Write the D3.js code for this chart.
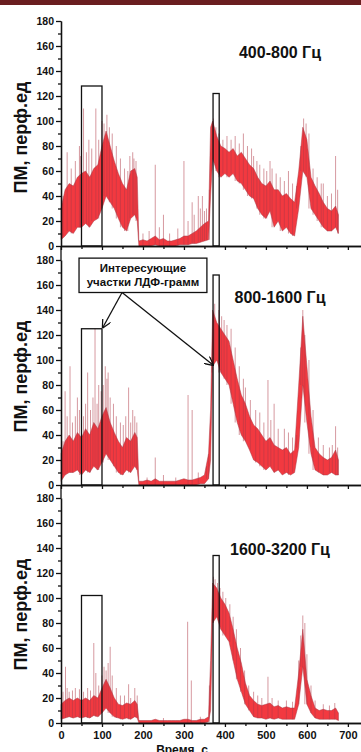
<!doctype html>
<html lang="ru">
  <head>
    <meta charset="utf-8"/>
    <title>ЛДФ-граммы</title>
    <script src="https://d3js.org/d3.v7.min.js"></script>
    <style>
      body { margin: 0; background: #fff; }
      svg { display: block; font-family: "Liberation Sans", Arial, sans-serif; }
      .axis path, .axis line { stroke: #111; stroke-width: 1.3; }
      .axis text { font-weight: bold; font-size: 10.5px; fill: #111; }
    </style>
  </head>
  <body>
    <div id="chart"></div>
    <script>
      // time samples, s
      var times = [0,10,20,30,40,50,60,70,80,90,100,110,120,130,140,150,160,170,180,
        186,
        190,200,210,220,230,240,250,260,270,280,290,300,310,320,330,340,350,360,
        365,
        370,380,390,400,410,420,430,440,450,460,470,480,490,500,510,520,530,540,550,560,570,580,590,600,610,620,630,640,650,660,670,
        677];

      // 400-800 Hz: lower / upper edge of the dense band
      var p1Lo = [5,8,12,10,15,15,18,15,20,22,30,40,35,30,22,15,12,22,25, 20,
        0,0,0,0,1,0,0,0,0,0,1,1,1,2,2,3,4,5, 40,
        70,60,55,58,55,58,52,50,45,40,38,30,25,22,28,15,20,12,15,10,8,30,60,55,30,25,20,15,12,12,15, 10];
      var p1Hi = [30,45,50,48,55,58,60,55,62,65,80,92,80,68,58,50,45,60,62, 55,
        4,5,4,6,8,5,6,4,4,5,6,8,8,10,12,15,18,20, 95,
        100,88,80,78,75,78,72,75,70,65,62,55,50,48,52,45,45,40,42,38,35,60,95,85,55,48,42,35,30,28,32, 25];

      // 800-1600 Hz
      var p2Lo = [3,8,10,10,12,8,12,10,15,12,18,25,20,15,10,8,12,10,15, 12,
        0,0,0,0,0,0,0,0,0,0,0,0,0,0,0,1,1,5, 20,
        95,100,90,85,80,65,50,40,35,28,20,18,15,12,15,10,12,8,10,8,10,30,80,50,25,12,10,8,8,10,8, 8];
      var p2Hi = [25,35,40,35,42,38,45,40,50,45,55,62,50,42,35,30,38,35,42, 38,
        3,3,4,3,5,3,3,3,3,3,4,5,4,4,5,6,8,25, 60,
        140,130,125,120,115,100,85,72,65,55,48,45,40,35,38,32,30,28,30,25,28,80,135,95,55,30,25,22,20,22,28, 20];

      // 1600-3200 Hz
      var p3Lo = [3,4,5,4,5,4,5,4,6,5,8,12,8,5,4,3,4,3,5, 4,
        0,0,0,0,0,0,0,0,0,0,0,0,0,0,0,0,0,1, 10,
        80,85,75,70,65,50,35,25,15,10,5,4,4,3,4,3,4,3,3,3,3,15,45,15,8,4,3,3,3,3,3, 2];
      var p3Hi = [15,18,20,18,20,18,20,18,22,20,28,35,28,20,15,14,16,15,18, 15,
        2,2,2,2,3,2,2,2,2,2,2,3,3,2,2,3,3,5, 50,
        112,108,100,95,88,75,60,48,32,22,18,15,14,15,16,13,14,12,13,12,12,40,75,35,22,12,10,11,10,10,12, 8];

      // thin spikes / hairs above the band [t, peak]
      var p1Spikes = [[5,40],[15,75],[25,62],[35,68],[45,80],[48,72],[55,110],[62,75],[68,85],[75,78],[85,110],
        [92,85],[100,100],[105,98],[112,105],[118,95],[125,90],[135,80],[145,70],[155,62],[163,60],[168,72],
        [175,75],[178,70],[183,68],[200,10],[215,12],[230,65],[240,15],[250,25],[265,10],[285,14],[300,68],
        [310,20],[320,35],[325,25],[335,40],[340,30],[345,40],[350,28],[355,30],[362,45],[372,102],[378,95],
        [385,90],[395,85],[405,88],[415,85],[425,88],[435,82],[445,90],[455,80],[465,78],[470,72],[478,68],
        [485,65],[495,62],[502,60],[510,68],[515,62],[525,58],[535,55],[545,52],[555,60],[565,50],[575,48],
        [585,80],[592,102],[598,98],[605,90],[615,62],[625,55],[635,50],[640,50],[650,40],[660,42],[670,72],[675,45]];
      var p2Spikes = [[5,35],[10,75],[15,55],[22,95],[28,50],[35,55],[40,70],[45,60],[55,55],[60,65],[65,90],
        [72,60],[78,70],[83,125],[88,65],[92,80],[98,75],[103,80],[108,95],[112,85],[115,90],[120,70],[128,65],
        [135,55],[145,50],[152,48],[158,55],[165,78],[170,50],[175,60],[180,55],[185,50],[210,6],[230,22],
        [250,8],[280,6],[310,72],[320,60],[335,10],[355,15],[360,25],[368,90],[375,145],[385,140],[392,135],
        [398,132],[405,128],[415,125],[425,110],[435,95],[445,85],[450,78],[462,68],[475,60],[485,58],[495,50],
        [505,84],[512,52],[520,65],[530,45],[545,45],[555,42],[565,38],[575,40],[585,110],[590,140],[595,120],
        [605,100],[615,60],[628,38],[640,32],[655,30],[662,32],[670,47],[675,30]];
      var p3Spikes = [[5,25],[11,45],[15,28],[20,25],[28,26],[35,28],[45,27],[55,25],[65,28],[72,26],[80,64],
        [85,40],[92,30],[100,38],[105,45],[110,42],[115,48],[120,61],[125,38],[135,28],[145,22],[155,22],
        [165,31],[170,20],[180,28],[186,22],[250,4],[309,81],[318,34],[340,5],[362,30],[372,117],[376,115],
        [382,112],[388,108],[395,105],[402,100],[412,95],[420,85],[428,75],[438,60],[448,42],[458,30],[470,25],
        [480,22],[490,20],[505,37],[515,20],[530,18],[550,18],[565,17],[580,50],[585,70],[590,86],[595,80],
        [600,55],[610,30],[620,18],[640,15],[655,14],[668,16]];

      // boxes around the regions of interest [t0, t1, top]
      var p1Boxes = [[50,100,128],[371,386,122]];
      var p2Boxes = [[50,100,125],[371,386,168]];
      var p3Boxes = [[50,100,102],[371,386,134]];

      var titles = ["400-800 Гц", "800-1600 Гц", "1600-3200 Гц"];
      var yTicks = [0,20,40,60,80,100,120,140,160,180];
      var xTicks = [0,100,200,300,400,500,600,700];
      var yLabel = "ПМ, перф.ед";
      var xLabel = "Время, с";
      var noteLines = ["Интересующие", "участки ЛДФ-грамм"];

      var w = 361;
      var h = 752;
      var base = [246, 485, 723];
      var panelH = 225;

      var svg = d3.select("#chart")
        .append("svg")
        .attr("width", w)
        .attr("height", h);

      svg.append("defs").append("marker")
        .attr("id", "arr")
        .attr("viewBox", "0 0 10 10")
        .attr("refX", 9).attr("refY", 5)
        .attr("markerWidth", 9).attr("markerHeight", 9)
        .attr("markerUnits", "userSpaceOnUse")
        .attr("orient", "auto")
        .append("path")
        .attr("d", "M0,0 L10,5 L0,10")
        .attr("fill", "none")
        .attr("stroke", "#111")
        .attr("stroke-width", 1.4);

      // dark strip on top
      svg.append("rect").attr("x", 0).attr("y", 0).attr("width", w).attr("height", 5).attr("fill", "#6a1e20");

      var xScale = d3.scaleLinear().domain([0, 732]).range([61, 361]);

      var panels = [
        {lo: p1Lo, hi: p1Hi, spikes: p1Spikes, boxes: p1Boxes},
        {lo: p2Lo, hi: p2Hi, spikes: p2Spikes, boxes: p2Boxes},
        {lo: p3Lo, hi: p3Hi, spikes: p3Spikes, boxes: p3Boxes}
      ];

      var scales = [];
      panels.forEach(function(p, i) {
        var yScale = d3.scaleLinear().domain([0, 180]).range([base[i], base[i] - panelH]);
        scales.push(yScale);
        drawPanel(p, i, yScale);
      });

      function drawPanel(p, i, yScale) {
        var g = svg.append("g");
        var rows = times.map(function(t, k) { return {t: t, lo: p.lo[k], hi: p.hi[k]}; });
        var near = d3.bisector(function(r) { return r.t; });

        var band = d3.area()
          .x(function(d) { return xScale(d.t); })
          .y0(function(d) { return yScale(d.lo); })
          .y1(function(d) { return yScale(d.hi); });

        g.append("path")
          .datum(rows)
          .attr("d", band)
          .attr("fill", "#f0161e")
          .attr("fill-opacity", 0.85)
          .attr("stroke", "#a83a45")
          .attr("stroke-opacity", 0.7)
          .attr("stroke-width", 0.7);

        // hairs over the band
        g.selectAll("line.spike")
          .data(p.spikes)
          .enter()
          .append("line")
          .attr("class", "spike")
          .attr("x1", function(d) { return xScale(d[0]); })
          .attr("x2", function(d) { return xScale(d[0]); })
          .attr("y1", function(d) { return yScale(rows[near.center(rows, d[0])].lo); })
          .attr("y2", function(d) { return yScale(d[1]); })
          .attr("stroke", "#b03a48")
          .attr("stroke-opacity", 0.65)
          .attr("stroke-width", 0.8);

        // boxes
        g.selectAll("rect.box")
          .data(p.boxes)
          .enter()
          .append("rect")
          .attr("class", "box")
          .attr("x", function(d) { return xScale(d[0]); })
          .attr("y", function(d) { return yScale(d[2]); })
          .attr("width", function(d) { return xScale(d[1]) - xScale(d[0]); })
          .attr("height", function(d) { return yScale(0) - yScale(d[2]); })
          .attr("fill", "none")
          .attr("stroke", "#111")
          .attr("stroke-width", 1.3);

        //Y axis, major and minor
        var yAxis = d3.axisLeft(yScale).tickValues(yTicks).tickSize(5).tickSizeOuter(0).tickPadding(2);
        g.append("g")
          .attr("class", "axis")
          .attr("transform", "translate(" + xScale(0) + ",0)")
          .call(yAxis);
        var yMinor = d3.axisLeft(yScale).tickValues(d3.range(10, 180, 20)).tickSize(3).tickSizeOuter(0).tickFormat("");
        g.append("g")
          .attr("class", "axis")
          .attr("transform", "translate(" + xScale(0) + ",0)")
          .call(yMinor);
        if (i > 0) {
          g.append("line")
            .attr("x1", xScale(0)).attr("x2", xScale(0))
            .attr("y1", base[i - 1]).attr("y2", yScale(180))
            .attr("stroke", "#111").attr("stroke-width", 1.3);
        }

        //X axis
        var xAxis = d3.axisBottom(xScale).tickValues(xTicks).tickSize(4).tickSizeOuter(0).tickPadding(4);
        if (i < 2) xAxis.tickFormat("");
        var xg = g.append("g")
          .attr("class", "axis")
          .attr("transform", "translate(0," + base[i] + ")")
          .call(xAxis);
        xg.selectAll("text").style("font-size", "11px");
        var xMinor = d3.axisBottom(xScale).tickValues(d3.range(50, 732, 100)).tickSize(3).tickSizeOuter(0).tickFormat("");
        g.append("g")
          .attr("class", "axis")
          .attr("transform", "translate(0," + base[i] + ")")
          .call(xMinor);

        // title
        g.append("text")
          .attr("x", 280)
          .attr("y", base[i] - panelH + [37, 43, 57][i])
          .attr("text-anchor", "middle")
          .attr("font-weight", "bold")
          .attr("font-size", "16px")
          .attr("fill", "#111")
          .text(titles[i]);

        // y label
        g.append("text")
          .attr("transform", "translate(27," + (base[i] - panelH / 2 + 4) + ") rotate(-90)")
          .attr("text-anchor", "middle")
          .attr("font-weight", "bold")
          .attr("font-size", "18px")
          .attr("fill", "#111")
          .text(yLabel);
      }

      // note box on the middle panel
      var y2 = scales[1];
      var note = svg.append("g");
      note.append("rect")
        .attr("x", xScale(44)).attr("y", y2(181.5))
        .attr("width", xScale(356) - xScale(44))
        .attr("height", y2(154) - y2(181.5))
        .attr("fill", "#fff")
        .attr("stroke", "#111")
        .attr("stroke-width", 1.3);
      note.selectAll("text")
        .data(noteLines)
        .enter()
        .append("text")
        .attr("x", xScale(200))
        .attr("y", function(d, k) { return y2(181.5) + 14 + k * 14; })
        .attr("text-anchor", "middle")
        .attr("font-weight", "bold")
        .attr("font-size", "11.5px")
        .attr("fill", "#111")
        .text(function(d) { return d; });

      var arrows = [[149, 154, 102, 126], [149, 154, 371, 96]];
      note.selectAll("line.arrow")
        .data(arrows)
        .enter()
        .append("line")
        .attr("x1", function(d) { return xScale(d[0]); })
        .attr("y1", function(d) { return y2(d[1]); })
        .attr("x2", function(d) { return xScale(d[2]); })
        .attr("y2", function(d) { return y2(d[3]); })
        .attr("stroke", "#111")
        .attr("stroke-width", 1.3)
        .attr("marker-end", "url(#arr)");

      // x label, its lower part falls off the bottom edge as in the source
      svg.append("text")
        .attr("x", 182)
        .attr("y", 754)
        .attr("text-anchor", "middle")
        .attr("font-weight", "bold")
        .attr("font-size", "12px")
        .attr("fill", "#111")
        .text(xLabel);
    </script>
  </body>
</html>
